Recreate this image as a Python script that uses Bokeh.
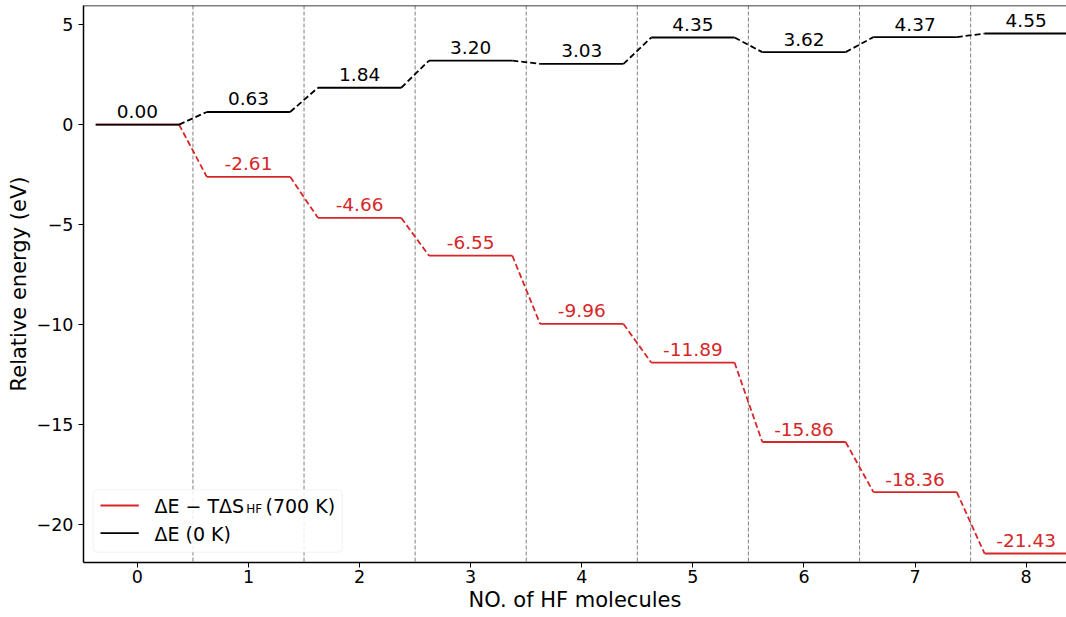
from bokeh.plotting import figure
from bokeh.models import Span, BoxAnnotation, FixedTicker
from bokeh.core.properties import value
from bokeh.embed import file_html
from bokeh.resources import INLINE

# Relative energies (eV) versus number of adsorbed HF molecules
n_hf = [0, 1, 2, 3, 4, 5, 6, 7, 8]
dE_0K = [0.00, 0.63, 1.84, 3.20, 3.03, 4.35, 3.62, 4.37, 4.55]
dG_700K = [0.00, -2.61, -4.66, -6.55, -9.96, -11.89, -15.86, -18.36, -21.43]
x_ticks = [0, 1, 2, 3, 4, 5, 6, 7, 8]
y_ticks = [-20, -15, -10, -5, 0, 5]

RED = "#d62728"
FONT = "DejaVu Sans"

# canvas / frame geometry (pixels)
W, H = 1066, 617
LEFT, TOP, BOTTOM = 83, 5, 55
FW, FH = W - LEFT, H - TOP - BOTTOM
X0, X1 = -0.485, 8.363
Y0, Y1 = -21.88, 5.95
HALF = 0.375  # half width of each energy level


def dx(px):
    return X0 + (px - LEFT) * (X1 - X0) / FW


def dy(py):
    return Y1 - (py - TOP) * (Y1 - Y0) / FH


p = figure(width=W, height=H, x_range=(X0, X1), y_range=(Y0, Y1),
           output_backend="svg", toolbar_location=None,
           min_border_left=LEFT, min_border_right=0,
           min_border_top=TOP, min_border_bottom=BOTTOM)
p.outline_line_color = None
p.grid.visible = False
p.background_fill_color = "white"
p.border_fill_color = "white"

# top frame edge only (no right edge)
p.add_layout(Span(location=Y1, dimension="width", line_color="black", line_width=1.5))

# separators between successive states
for i in n_hf[:-1]:
    p.add_layout(Span(location=i + 0.5, dimension="height", line_color="#8c8c8c",
                      line_width=1.1, line_dash="4 2", level="underlay"))


def draw_series(vals, color):
    p.segment(x0=[n - HALF for n in n_hf], x1=[n + HALF for n in n_hf],
              y0=vals, y1=vals, line_color=color, line_width=1.8)
    p.segment(x0=[n + HALF for n in n_hf[:-1]], x1=[n + 1 - HALF for n in n_hf[:-1]],
              y0=vals[:-1], y1=vals[1:], line_color=color, line_width=1.8,
              line_dash="6 3")


draw_series(dG_700K, RED)
draw_series(dE_0K, "black")

p.text(x=n_hf[1:], y=dG_700K[1:], text=[f"{v:.2f}" for v in dG_700K[1:]],
       text_align="center", text_baseline="alphabetic", y_offset=-13,
       text_font=value(FONT), text_font_size="18.5px", text_color=RED)
p.text(x=n_hf, y=dE_0K, text=[f"{v:.2f}" for v in dE_0K],
       text_align="center", text_baseline="alphabetic", y_offset=-13,
       text_font=value(FONT), text_font_size="18.5px", text_color="black")

# axes
p.xaxis.ticker = FixedTicker(ticks=x_ticks)
p.yaxis.ticker = FixedTicker(ticks=y_ticks)
p.yaxis.major_label_overrides = {t: str(t).replace("-", "\u2212") for t in y_ticks}
p.xaxis.axis_label = "NO. of HF molecules"
p.yaxis.axis_label = "Relative energy (eV)"
for ax in (p.xaxis, p.yaxis):
    ax.axis_line_width = 1.5
    ax.axis_line_color = "black"
    ax.major_tick_line_width = 1
    ax.major_tick_line_color = "black"
    ax.major_tick_out = 5
    ax.major_tick_in = 0
    ax.minor_tick_out = 0
    ax.minor_tick_in = 0
    ax.major_label_text_font = FONT
    ax.major_label_text_font_size = "17.5px"
    ax.major_label_text_color = "black"
    ax.axis_label_text_font = FONT
    ax.axis_label_text_font_size = "21px"
    ax.axis_label_text_font_style = "normal"
    ax.axis_label_text_color = "black"
p.xaxis.major_label_standoff = 2
p.xaxis.axis_label_standoff = 2
p.yaxis.major_label_standoff = 5
p.yaxis.axis_label_standoff = 3

# legend
p.add_layout(BoxAnnotation(left=dx(92.7), right=dx(341.7), top=dy(489.3), bottom=dy(551.7),
                           fill_color="white", fill_alpha=0.85, line_color="#d4d4d4",
                           line_width=1, border_radius=4))
p.segment(x0=[dx(100), dx(100)], x1=[dx(138.3), dx(138.3)],
          y0=[dy(505), dy(532.7)], y1=[dy(505), dy(532.7)],
          line_color=[RED, "black"], line_width=1.8, level="overlay")
legend_kw = dict(text_align="left", text_baseline="alphabetic",
                 text_font=value(FONT), text_color="black", level="overlay")
p.text(x=[dx(154)], y=[dy(505.3)], text=["\u0394E \u2212 T\u0394S"],
       text_font_size="19px", **legend_kw)
p.text(x=[dx(245.7)], y=[dy(508.5)], text=["HF"], text_font_size="12px", **legend_kw)
p.text(x=[dx(265)], y=[dy(505.3)], text=["(700 K)"], text_font_size="19px", **legend_kw)
p.text(x=[dx(154)], y=[dy(533)], text=["\u0394E (0 K)"], text_font_size="19px", **legend_kw)

open("out.html", "w").write(file_html(p, INLINE))
